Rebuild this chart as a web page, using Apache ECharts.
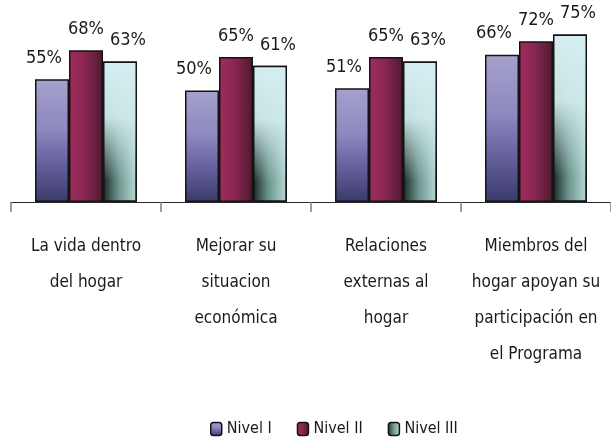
<!DOCTYPE html>
<html>
<head>
<meta charset="utf-8">
<script src="https://cdn.jsdelivr.net/npm/echarts@6/dist/echarts.min.js"></script>
<style>html,body{margin:0;padding:0;background:#fff}#c{width:611px;height:439px}</style>
</head>
<body>
<div id="c"></div>
<script>
const categories = ["La vida dentro\ndel hogar", "Mejorar su\nsituacion\neconómica", "Relaciones\nexternas al\nhogar", "Miembros del\nhogar apoyan su\nparticipación en\nel Programa"];
const seriesNames = ["Nivel I", "Nivel II", "Nivel III"];
const nivel1 = [55, 50, 51, 66];
const nivel2 = [68, 65, 65, 72];
const nivel3 = [63, 61, 63, 75];

const FONT = "'Liberation Sans Narrow', 'DejaVu Sans Condensed', 'Arial Narrow', sans-serif";
const lg = (x, y, x2, y2, stops) => new echarts.graphic.LinearGradient(x, y, x2, y2, stops.map(s => ({offset: s[0], color: s[1]})));

const c1 = lg(0, 0, 0, 1, [[0, '#a5a1cc'], [0.4, '#8e89c0'], [0.65, '#6b66a4'], [1, '#3a3a6a']]);
const c2 = lg(0, 0, 1, 0, [[0, '#a02c5e'], [0.45, '#8a2752'], [1, '#4e1a30']]);
const c3 = lg(0, 0, 1, 0, [[0, '#1c2824'], [0.45, '#6b948d'], [1, '#b8dcd8']]);
const c3top = lg(0, 0, 0, 1, [[0, 'rgba(214,238,241,1)'], [0.4, 'rgba(206,233,235,0.95)'], [0.85, 'rgba(200,230,230,0)'], [1, 'rgba(200,230,230,0)']]);

const border = {borderColor: '#141414', borderWidth: 1.5};
const labelBase = {show: true, position: 'top', distance: 12, fontFamily: FONT, fontSize: 18, color: '#1a1a1a', formatter: '{c}%'};

const chart = echarts.init(document.getElementById('c'));
chart.setOption({
  animation: false,
  grid: {left: 11, right: 0, top: 0, height: 202},
  legend: {
    data: seriesNames, top: 416, left: 205, itemWidth: 11, itemHeight: 13, itemGap: 25,
    textStyle: {fontFamily: FONT, fontSize: 16, color: '#1a1a1a'},
    itemStyle: {borderColor: '#141414', borderWidth: 1.5}
  },
  xAxis: [{
    type: 'category', data: categories,
    axisLine: {lineStyle: {color: '#2a2a2a', width: 1}},
    axisTick: {show: true, length: 10, lineStyle: {color: '#808080', width: 1.5}},
    axisLabel: {margin: 27, fontFamily: FONT, fontSize: 17, lineHeight: 36, color: '#1a1a1a', interval: 0}
  }, {
    type: 'category', data: categories, show: false
  }],
  yAxis: {type: 'value', min: 0, max: 90.5, show: false},
  series: [
    {name: seriesNames[0], type: 'bar', data: nivel1, barWidth: 34, barGap: '0%', itemStyle: Object.assign({color: c1}, border), label: Object.assign({}, labelBase, {offset: [-8, 0]})},
    {name: seriesNames[1], type: 'bar', data: nivel2, barWidth: 34, barGap: '0%', itemStyle: Object.assign({color: c2}, border), label: labelBase},
    {name: seriesNames[2], type: 'bar', data: nivel3, barWidth: 34, barGap: '0%', itemStyle: Object.assign({color: c3}, border), label: Object.assign({}, labelBase, {offset: [8, 0]})},
    {name: '_p1', type: 'bar', xAxisIndex: 1, data: nivel1.map(() => '-'), barWidth: 34, barGap: '0%', silent: true},
    {name: '_p2', type: 'bar', xAxisIndex: 1, data: nivel2.map(() => '-'), barWidth: 34, barGap: '0%', silent: true},
    {name: '_p3', type: 'bar', xAxisIndex: 1, data: nivel3, barWidth: 34, barGap: '0%', silent: true, z: 3, itemStyle: Object.assign({color: c3top}, border)}
  ]
});
</script>
</body>
</html>
